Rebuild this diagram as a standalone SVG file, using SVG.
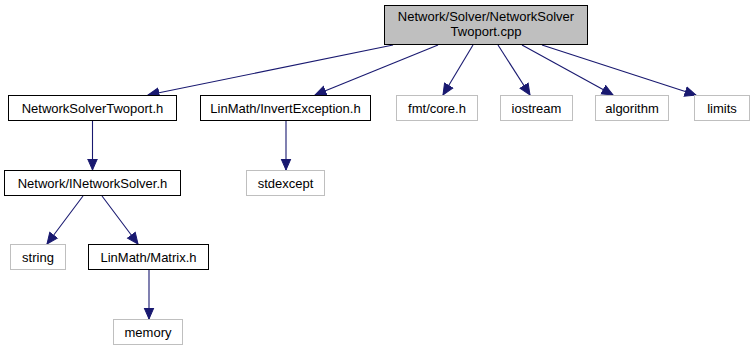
<svg xmlns="http://www.w3.org/2000/svg" width="754" height="351" viewBox="0 0 754 351">
  <style>
    .node rect { fill: #ffffff; stroke: #000000; stroke-width: 1; }
    .node.root rect { fill: #bfbfbf; stroke: #000000; }
    .node.ext rect { stroke: #bfbfbf; }
    .node text { font-family: "Liberation Sans", Arial, Helvetica, sans-serif; font-size: 13px; fill: #000000; text-anchor: middle; }
    .edges line { stroke: #191970; stroke-width: 1.1; fill: none; marker-end: url(#arrow); }
  </style>
  <defs>
    <marker id="arrow" markerUnits="userSpaceOnUse" markerWidth="13" markerHeight="12" viewBox="0 -6 13 12" refX="11.5" refY="0" orient="auto">
      <path d="M0.5,-4.8 L11.5,0 L0.5,4.8 Z" fill="#191970" stroke="#191970" stroke-width="1"/>
    </marker>
  </defs>
  <rect width="754" height="351" fill="#ffffff"/>

  <g class="edges" id="edges">
    <line x1="393" y1="45" x2="148" y2="95"/>
    <line x1="438" y1="45" x2="315" y2="95"/>
    <line x1="473" y1="45" x2="443" y2="95"/>
    <line x1="498" y1="45" x2="530" y2="95"/>
    <line x1="522" y1="45" x2="613" y2="95"/>
    <line x1="542" y1="45" x2="696" y2="95"/>
    <line x1="92.5" y1="121" x2="92.5" y2="170"/>
    <line x1="286" y1="121" x2="286" y2="170"/>
    <line x1="83" y1="196" x2="47" y2="244"/>
    <line x1="102" y1="196" x2="138" y2="244"/>
    <line x1="149" y1="270" x2="149" y2="319"/>
  </g>

  <g class="node root" id="node-root">
    <rect x="384.5" y="5.5" width="203" height="39"/>
    <text x="486" y="21">Network/Solver/NetworkSolver</text>
    <text x="486" y="36">Twoport.cpp</text>
  </g>
  <g class="node" id="node-nstwoport">
    <rect x="8.5" y="95.5" width="168" height="25"/>
    <text x="92.5" y="112.5">NetworkSolverTwoport.h</text>
  </g>
  <g class="node" id="node-invertexception">
    <rect x="200.5" y="95.5" width="170" height="25"/>
    <text x="285.5" y="112.5">LinMath/InvertException.h</text>
  </g>
  <g class="node ext" id="node-fmtcore">
    <rect x="396.5" y="95.5" width="81" height="25"/>
    <text x="437" y="112.5">fmt/core.h</text>
  </g>
  <g class="node ext" id="node-iostream">
    <rect x="500.5" y="95.5" width="72" height="25"/>
    <text x="536.5" y="112.5">iostream</text>
  </g>
  <g class="node ext" id="node-algorithm">
    <rect x="595.5" y="95.5" width="73" height="25"/>
    <text x="632" y="112.5">algorithm</text>
  </g>
  <g class="node ext" id="node-limits">
    <rect x="694.5" y="95.5" width="55" height="25"/>
    <text x="722" y="112.5">limits</text>
  </g>
  <g class="node" id="node-inetworksolver">
    <rect x="4.5" y="170.5" width="176" height="25"/>
    <text x="92.5" y="187.5">Network/INetworkSolver.h</text>
  </g>
  <g class="node ext" id="node-stdexcept">
    <rect x="246.5" y="170.5" width="78" height="25"/>
    <text x="285.5" y="187.5">stdexcept</text>
  </g>
  <g class="node ext" id="node-string">
    <rect x="10.5" y="244.5" width="55" height="25"/>
    <text x="38" y="261.5">string</text>
  </g>
  <g class="node" id="node-matrix">
    <rect x="88.5" y="244.5" width="120" height="25"/>
    <text x="148.5" y="261.5">LinMath/Matrix.h</text>
  </g>
  <g class="node ext" id="node-memory">
    <rect x="113.5" y="319.5" width="69" height="25"/>
    <text x="148" y="336.5">memory</text>
  </g>
</svg>
